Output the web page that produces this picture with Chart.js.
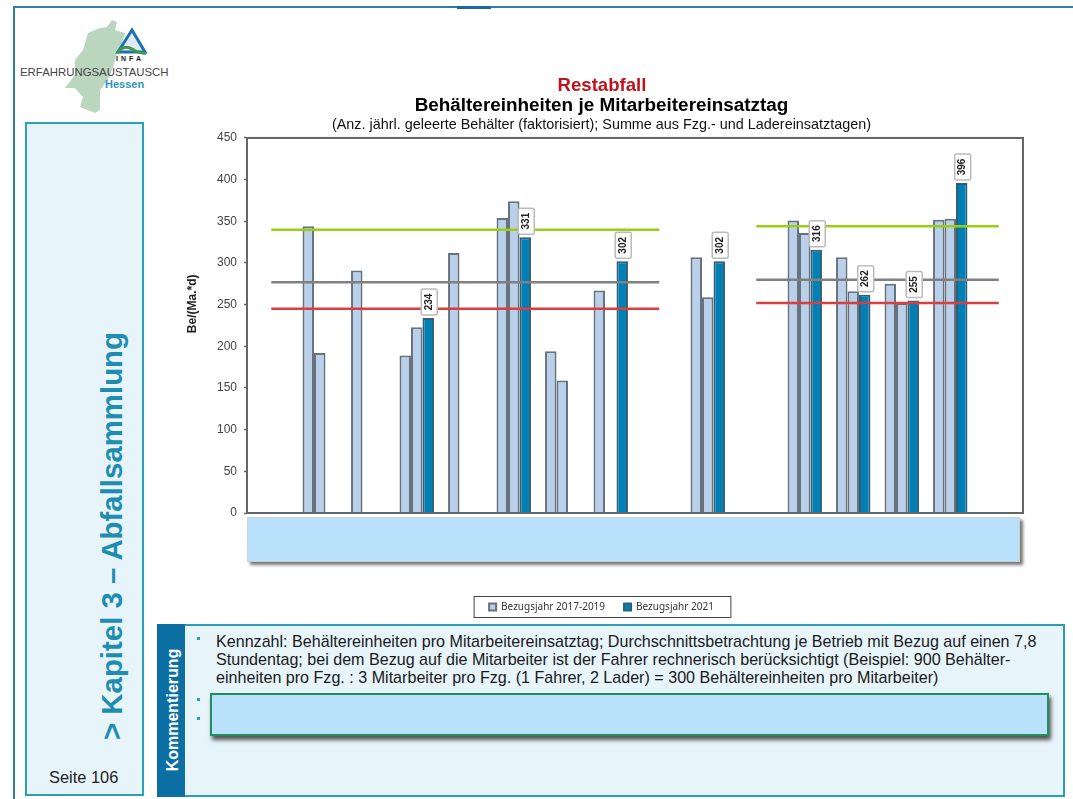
<!DOCTYPE html>
<html lang="de">
<head>
<meta charset="utf-8">
<title>Restabfall</title>
<script src="https://cdn.jsdelivr.net/npm/chart.js@4"></script>
<style>
    html, body { margin: 0; padding: 0; background: #fff; }
    body { position: relative; width: 1073px; height: 799px; overflow: hidden; font-family: "Liberation Sans", Arial, sans-serif; }
    .abs { position: absolute; }
    #chartBox { left: 180px; top: 94px; width: 844px; height: 528px; }
    .panel { background: #e7f4fa; border: 2px solid #2b9fb8; box-sizing: border-box; }
    .cover { background: #b9e1fb; box-sizing: border-box; }
    .rot { transform: translate(-50%, -50%) rotate(-90deg); white-space: nowrap; }
    .comment { left: 216px; white-space: nowrap; font-size: 16.1px; color: #1a1a1a; }
    .dot { width: 3px; height: 3px; left: 197px; background: #2b9fb8; }
</style>
</head>
<body>
<div class="abs" style="left:14px;top:6px;width:1059px;height:2px;background:#2f7fa8"></div>
<div class="abs" style="left:457px;top:6px;width:34px;height:3px;background:#1c6a98"></div>
<div class="abs" style="left:13px;top:6px;width:2px;height:793px;background:#2f7fa8"></div>

<svg class="abs" style="left:0;top:0" width="200" height="120">
    <polygon fill="#bad6be" points="112,20 117,22 115,30 125,33 122,43 117,53 113,67 108,80 100,90 100,110 95,113 80,107 83,97 75,88 65,88 75,75 75,60 83,50 88,33 100,28 107,27"/>
    <polygon fill="#dfeaf3" stroke="#1f6fb5" stroke-width="3" points="132,30 118,52 145,52"/>
    <path d="M117 53 Q124 44 132 49 T146 53" fill="none" stroke="#3c9a4a" stroke-width="3"/>
</svg>
<div class="abs" style="left:116px;top:55px;font:bold 7px 'Liberation Sans';letter-spacing:3px;color:#222">INFA</div>
<div class="abs" style="left:20px;top:66px;font-size:11.4px;color:#444">ERFAHRUNGSAUSTAUSCH</div>
<div class="abs" style="left:105px;top:78px;font:bold 11px 'Liberation Sans';color:#2f95c0">Hessen</div>

<div class="abs panel" style="left:25px;top:122px;width:119px;height:674px"></div>
<div class="abs rot" style="left:112px;top:536px;font:bold 29.4px 'Liberation Sans';color:#1f8db0">&gt; Kapitel 3 – Abfallsammlung</div>
<div class="abs" style="left:49px;top:768px;font-size:16.4px;color:#222">Seite 106</div>

<div class="abs" id="chartBox"><canvas id="chart"></canvas></div>
<div class="abs" style="left:0;top:74px;width:1204px;text-align:center;font:bold 18.6px 'Liberation Sans';color:#c0141c">Restabfall</div>

<div class="abs cover" style="left:247px;top:517px;width:773px;height:45px;border:1px solid #cfcfcf;box-shadow:3px 3px 3px #777"></div>

<div class="abs panel" style="left:157px;top:624px;width:908px;height:173px"></div>
<div class="abs" style="left:157px;top:624px;width:28px;height:173px;background:#0b6fa3"></div>
<div class="abs rot" style="left:173px;top:710px;font:bold 16px 'Liberation Sans';color:#fff">Kommentierung</div>
<div class="abs dot" style="top:637px"></div>
<div class="abs dot" style="top:698px"></div>
<div class="abs dot" style="top:717px"></div>
<div class="abs comment" style="top:632px">Kennzahl: Behältereinheiten pro Mitarbeitereinsatztag; Durchschnittsbetrachtung je Betrieb mit Bezug auf einen 7,8</div>
<div class="abs comment" style="top:650px">Stundentag; bei dem Bezug auf die Mitarbeiter ist der Fahrer rechnerisch berücksichtigt (Beispiel: 900 Behälter-</div>
<div class="abs comment" style="top:668px">einheiten pro Fzg. : 3 Mitarbeiter pro Fzg. (1 Fahrer, 2 Lader) = 300 Behältereinheiten pro Mitarbeiter)</div>
<div class="abs cover" style="left:210px;top:693px;width:839px;height:43px;border:2px solid #1f8f60;box-shadow:2px 4px 4px #555"></div>

<script>
// categories are hidden behind the blue box in the original
const categories = ["", "", "", "", "", "", "", "", "", "", "", "", "", "", "", ""];

const barsFirst  = [null, 344, 291, 189, 312, 354, 194, 267, null, 307, null, 351, 307, 275, 352, null];
const barsSecond = [null, 192, null, 223, null, 374, 159, null, null, 259, null, 336, 266, 252, 353, null];
const bars2021   = [null, null, null, 234, null, 331, null, 302, null, 302, null, 316, 262, 255, 396, null];

const greenLine = [340, 340, 340, 340, 340, 340, 340, 340, 340, null, 344, 344, 344, 344, 344, 344];
const greyLine  = [277, 277, 277, 277, 277, 277, 277, 277, 277, null, 280, 280, 280, 280, 280, 280];
const redLine   = [245, 245, 245, 245, 245, 245, 245, 245, 245, null, 252, 252, 252, 252, 252, 252];

const yTicks = [0, 50, 100, 150, 200, 250, 300, 350, 400, 450];

const lightBlue = "#b9cfea";
const darkBlue = "#0080b4";

function barSet(label, data, color, edge) {
    return { type: "bar", label: label, data: data, backgroundColor: color, borderColor: edge, borderWidth: 2, order: 2 };
}
function lineSet(label, data, color) {
    return { type: "line", label: label, data: data, borderColor: color, borderWidth: 2.5, pointRadius: 0, spanGaps: false, order: 1 };
}

// frame round the plot and round the legend
const framePlugin = {
    id: "frames",
    afterDatasetsDraw(chart) {
        const c = chart.ctx, a = chart.chartArea, boxes = chart.legend.legendHitBoxes;
        const first = boxes[0], last = boxes[boxes.length - 1];
        const midY = first.top + first.height / 2;
        c.save();
        c.strokeStyle = "#666";
        c.lineWidth = 2;
        c.strokeRect(a.left, a.top, a.right - a.left, a.bottom - a.top);
        c.lineWidth = 1;
        c.strokeStyle = "#444";
        c.strokeRect(first.left - 15, midY - 10.5, last.left + last.width - first.left + 32, 21);
        c.restore();
    }
};

// the rotated value boxes above the 2021 bars
const valueBoxes = {
    id: "valueBoxes",
    afterDatasetsDraw(chart) {
        const c = chart.ctx;
        chart.getDatasetMeta(2).data.forEach((bar, i) => {
            if (bars2021[i] === null) return;
            c.save();
            c.translate(bar.x + 1, bar.y - 16);
            c.rotate(-Math.PI / 2);
            c.fillStyle = "#fff";
            c.strokeStyle = "#bbb";
            c.lineWidth = 1.5;
            c.beginPath();
            c.roundRect(-13, -8, 26, 16, 2);
            c.fill();
            c.stroke();
            c.fillStyle = "#222";
            c.font = "bold 10px 'Liberation Sans'";
            c.textAlign = "center";
            c.textBaseline = "middle";
            c.fillText(String(bars2021[i]), 0, 0);
            c.restore();
        });
    }
};

new Chart(document.getElementById("chart"), {
    data: {
        labels: categories,
        datasets: [
            barSet("Bezugsjahr 2017-2019", barsFirst, lightBlue, "#66727e"),
            barSet("Bezugsjahr 2017-2019", barsSecond, lightBlue, "#66727e"),
            barSet("Bezugsjahr 2021", bars2021, darkBlue, "#2f5f78"),
            lineSet("Linie grün", greenLine, "#9acd14"),
            lineSet("Linie grau", greyLine, "#808080"),
            lineSet("Linie rot", redLine, "#d8403f")
        ]
    },
    options: {
        responsive: true,
        maintainAspectRatio: false,
        animation: false,
        datasets: { bar: { categoryPercentage: 0.71, barPercentage: 1 } },
        layout: { padding: { top: 0, right: 1, bottom: 0, left: 0 } },
        plugins: {
            tooltip: { enabled: false },
            title: {
                display: true,
                text: "Behältereinheiten je Mitarbeitereinsatztag",
                color: "#000",
                font: { family: "Liberation Sans", size: 18.9, weight: "bold" },
                padding: { top: 0, bottom: 0 }
            },
            subtitle: {
                display: true,
                text: "(Anz. jährl. geleerte Behälter (faktorisiert); Summe aus Fzg.- und Ladereinsatztagen)",
                color: "#111",
                font: { family: "Liberation Sans", size: 14.4 },
                padding: { top: 0, bottom: 4 }
            },
            legend: {
                position: "bottom",
                labels: {
                    boxWidth: 7,
                    boxHeight: 7,
                    padding: 19,
                    color: "#333",
                    font: { family: "Noto Sans", size: 10 },
                    filter: item => item.datasetIndex === 0 || item.datasetIndex === 2
                }
            }
        },
        scales: {
            x: {
                ticks: { display: false },
                grid: { display: false },
                border: { display: false },
                afterFit: s => { s.height = 70; }
            },
            y: {
                min: 0,
                max: 450,
                afterFit: s => { s.width = 67; },
                afterBuildTicks: s => { s.ticks = yTicks.map(v => ({ value: v })); },
                title: {
                    display: true,
                    // leading spaces push the title up the axis as in the original
                    text: "\u00a0".repeat(13) + "Be/(Ma.*d)",
                    color: "#222",
                    font: { family: "Liberation Sans", size: 12, weight: "bold" },
                    padding: { top: 5, bottom: 0 }
                },
                ticks: { color: "#444", font: { family: "Liberation Sans", size: 12 }, padding: 7 },
                grid: { drawOnChartArea: false, color: "#666", tickLength: 3, tickWidth: 1.5 },
                border: { color: "#666", width: 2 }
            }
        }
    },
    plugins: [framePlugin, valueBoxes]
});
</script>
</body>
</html>
